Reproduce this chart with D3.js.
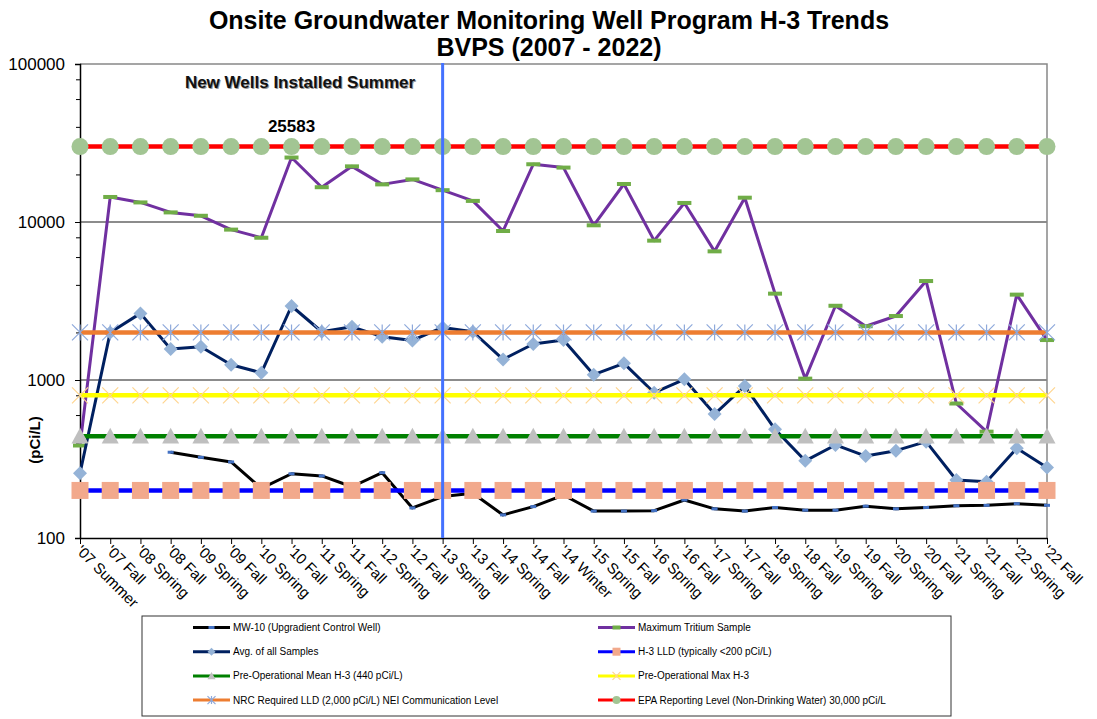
<!DOCTYPE html>
<html>
<head>
<meta charset="utf-8">
<script src="https://cdn.jsdelivr.net/npm/d3@7"></script>
<style>
  body { margin: 0; background: #fff; }
  svg { font-family: Arial, "Liberation Sans", sans-serif; }
</style>
</head>
<body>
<svg id="chart" width="1097" height="719"></svg>
<script>
// categories (sampling events)
const categories = ["'07 Summer", "'07 Fall", "'08 Spring", "'08 Fall", "'09 Spring", "'09 Fall",
  "'10 Spring", "'10 Fall", "'11 Spring", "'11 Fall", "'12 Spring", "'12 Fall", "'13 Spring",
  "'13 Fall", "'14 Spring", "'14 Fall", "'14 Winter", "'15 Spring", "'15 Fall", "'16 Spring",
  "'16 Fall", "'17 Spring", "'17 Fall", "'18 Spring", "'18 Fall", "'19 Spring", "'19 Fall",
  "'20 Spring", "'20 Fall", "'21 Spring", "'21 Fall", "'22 Spring", "'22 Fall"]

// pCi/L (null = no sample)
const mw10 = [null, null, null, 349, 324, 303, 206, 255, 247, 211, 259, 155, 183,
  192, 140, 158, 187, 148, 148, 149, 174, 153, 148, 156, 150, 150, 159,
  153, 156, 160, 161, 165, 161]
const maxTritium = [385, 14400, 13300, 11500, 10950, 8950, 7950, 25583, 16600, 22500, 17300, 18600, 15900,
  13600, 8770, 23200, 22100, 9530, 17400, 7620, 13200, 6520, 14250, 3520, 1020, 2950, 2190,
  2540, 4230, 710, 471, 3470, 1790]
const avgSamples = [257, 2000, 2640, 1570, 1625, 1250, 1110, 2940, 2020, 2170, 1880, 1780, 2150,
  2020, 1350, 1690, 1790, 1080, 1275, 831, 1010, 609, 916, 487, 308, 388, 330,
  357, 407, 233, 227, 370, 279]

// reference levels
const lldLevel = 200
const preOpMean = 440
const preOpMax = 800
const nrcLevel = 2000
const epaLevel = 30000

const yTicks = [100, 1000, 10000, 100000]

const svg = d3.select('#chart')
const plot = { left: 80, right: 1047, top: 64, bottom: 538 }

var x = d3.scalePoint().domain(categories).range([plot.left, plot.right])
var y = d3.scaleLog().domain([100, 100000]).range([plot.bottom, plot.top])

// title
svg.append('text').attr('x', 549).attr('y', 29).attr('text-anchor', 'middle')
  .attr('font-size', 25).attr('font-weight', 'bold')
  .text('Onsite Groundwater Monitoring Well Program H-3 Trends')
svg.append('text').attr('x', 549).attr('y', 56).attr('text-anchor', 'middle')
  .attr('font-size', 25).attr('font-weight', 'bold')
  .text('BVPS (2007 - 2022)')

// gridlines + frame
svg.append('g').selectAll('line').data([1000, 10000]).join('line')
  .attr('x1', plot.left).attr('x2', plot.right)
  .attr('y1', d => y(d)).attr('y2', d => y(d))
  .attr('stroke', '#666').attr('stroke-width', 1.3)
svg.append('path')
  .attr('d', `M${plot.left},${plot.top}H${plot.right}V${plot.bottom}`)
  .attr('fill', 'none').attr('stroke', '#888').attr('stroke-width', 1.5)

// y axis
const minorTicks = []
yTicks.slice(0, -1).forEach(t => [2, 4, 6, 8].forEach(m => minorTicks.push(t * m)))
svg.append('g')
  .attr('transform', `translate(${plot.left},0)`)
  .call(d3.axisLeft(y).tickValues(minorTicks).tickSize(4).tickFormat(''))
  .call(g => g.select('.domain').remove())
const yAxis = svg.append('g')
  .attr('transform', `translate(${plot.left},0)`)
  .call(d3.axisLeft(y).tickValues(yTicks).tickSize(5).tickFormat(d3.format('d')))
yAxis.selectAll('text').attr('font-size', 17).attr('font-family', 'Arial, "Liberation Sans", sans-serif')
  .attr('fill', '#000').attr('x', -15)
yAxis.select('.domain').attr('stroke-width', 1.5)

svg.append('text')
  .attr('transform', 'translate(40,440) rotate(-90)')
  .attr('text-anchor', 'middle').attr('font-size', 15).attr('font-weight', 'bold')
  .text('(pCi/L)')

// x axis
const xAxis = svg.append('g')
  .attr('transform', `translate(0,${plot.bottom})`)
  .call(d3.axisBottom(x).tickSize(6).tickSizeOuter(0))
xAxis.select('.domain').attr('stroke-width', 1.5)
xAxis.selectAll('text')
  .attr('font-size', 15).attr('font-family', 'Arial, "Liberation Sans", sans-serif').attr('fill', '#000')
  .attr('text-anchor', 'start')
  .attr('x', 6).attr('y', 8).attr('dy', '0.35em')
  .attr('transform', 'rotate(45)')

// helpers
const lineGen = d3.line().defined(d => d.v != null).x(d => x(d.c)).y(d => y(d.v))
const pts = vals => categories.map((c, i) => ({ c: c, v: vals[i] }))
const flat = v => categories.map(c => ({ c: c, v: v }))

function marker(g, type, fill, size) {
  if (type === 'circle') g.append('circle').attr('r', size / 2).attr('fill', fill)
  else if (type === 'square') g.append('rect').attr('x', -size / 2).attr('y', -size / 2)
    .attr('width', size).attr('height', size).attr('fill', fill)
  else if (type === 'triangle') g.append('path')
    .attr('d', `M0,${-size / 2}L${size / 2},${size * 0.42}L${-size / 2},${size * 0.42}Z`).attr('fill', fill)
  else if (type === 'diamond') g.append('path')
    .attr('d', `M0,${-size / 2}L${size / 2},0L0,${size / 2}L${-size / 2},0Z`).attr('fill', fill)
  else if (type === 'dash') g.append('rect').attr('x', -size / 2).attr('y', -2)
    .attr('width', size).attr('height', 4).attr('fill', fill)
  else if (type === 'smallbar') g.append('rect').attr('x', -3).attr('y', -1.5)
    .attr('width', 6).attr('height', 3).attr('fill', fill)
  else if (type === 'x') g.append('path')
    .attr('d', `M${-size / 2},${-size / 2}L${size / 2},${size / 2}M${size / 2},${-size / 2}L${-size / 2},${size / 2}`)
    .attr('stroke', fill).attr('stroke-width', 1.2)
  else if (type === 'star') g.append('path')
    .attr('d', `M${-size / 2},${-size / 2}L${size / 2},${size / 2}M${size / 2},${-size / 2}L${-size / 2},${size / 2}M0,${-size / 2}V${size / 2}`)
    .attr('stroke', fill).attr('stroke-width', 1.2)
}

const series = [
  { name: 'MW-10 (Upgradient Control Well)', data: pts(mw10), stroke: '#000', width: 3, m: 'smallbar', mfill: '#4472C4', ms: 6 },
  { name: 'Maximum Tritium Sample', data: pts(maxTritium), stroke: '#7030A0', width: 3, m: 'dash', mfill: '#70AD47', ms: 14 },
  { name: 'Avg. of all Samples', data: pts(avgSamples), stroke: '#002060', width: 3, m: 'diamond', mfill: '#95B3D7', ms: 14 },
  { name: 'H-3 LLD (typically <200 pCi/L)', data: flat(lldLevel), stroke: '#0000FF', width: 4.5, m: 'square', mfill: '#F2A98C', ms: 17 },
  { name: 'Pre-Operational Mean H-3 (440 pCi/L)', data: flat(preOpMean), stroke: '#008000', width: 4.5, m: 'triangle', mfill: '#BFBFBF', ms: 17 },
  { name: 'Pre-Operational Max H-3', data: flat(preOpMax), stroke: '#FFFF00', width: 4.5, m: 'x', mfill: '#FFD58F', ms: 16 },
  { name: 'NRC Required LLD (2,000 pCi/L) NEI Communication Level', data: flat(nrcLevel), stroke: '#ED7D31', width: 4.5, m: 'star', mfill: '#8EA9DB', ms: 16 },
  { name: 'EPA Reporting Level (Non-Drinking Water) 30,000 pCi/L', data: flat(epaLevel), stroke: '#FF0000', width: 4.5, m: 'circle', mfill: '#A2C593', ms: 17 }
]

series.forEach(s => {
  const g = svg.append('g')
  g.append('path').datum(s.data)
    .attr('fill', 'none').attr('stroke', s.stroke).attr('stroke-width', s.width)
    .attr('stroke-linejoin', 'round')
    .attr('d', lineGen)
  s.data.filter(d => d.v != null).forEach(d => {
    const mg = g.append('g').attr('transform', `translate(${x(d.c)},${y(d.v)})`)
    marker(mg, s.m, s.mfill, s.ms)
  })
})

// new wells marker line
svg.append('line')
  .attr('x1', x("'13 Spring")).attr('x2', x("'13 Spring"))
  .attr('y1', plot.top - 1).attr('y2', plot.bottom)
  .attr('stroke', '#4472FF').attr('stroke-width', 3)

// annotations
svg.append('text').attr('x', 300).attr('y', 88).attr('text-anchor', 'middle')
  .attr('font-size', 17).attr('font-weight', 'bold').attr('fill', '#999')
  .attr('dx', 1).attr('dy', 1).text('New Wells Installed Summer')
svg.append('text').attr('x', 300).attr('y', 88).attr('text-anchor', 'middle')
  .attr('font-size', 17).attr('font-weight', 'bold').attr('fill', '#111')
  .text('New Wells Installed Summer')
svg.append('text').attr('x', x("'10 Fall")).attr('y', 132).attr('text-anchor', 'middle')
  .attr('font-size', 17).attr('font-weight', 'bold')
  .text(d3.max(maxTritium))

// legend
const legend = svg.append('g')
legend.append('rect').attr('x', 142).attr('y', 616).attr('width', 809).attr('height', 100)
  .attr('fill', '#fff').attr('stroke', '#333').attr('stroke-width', 1)
const legendOrder = [0, 2, 4, 6, 1, 3, 5, 7]
legendOrder.forEach((si, k) => {
  const s = series[si]
  const col = Math.floor(k / 4), row = k % 4
  const lx = col === 0 ? 193 : 598
  const ly = 627.5 + row * 24.2
  const lg = legend.append('g').attr('transform', `translate(${lx},${ly})`)
  lg.append('line').attr('x1', 0).attr('x2', 37).attr('stroke', s.stroke).attr('stroke-width', 3)
  const mg = lg.append('g').attr('transform', 'translate(18.5,0)')
  marker(mg, s.m, s.mfill, s.m === 'dash' ? 8 : (s.m === 'smallbar' ? 6 : 8))
  lg.append('text').attr('x', 40).attr('dy', '0.35em').attr('font-size', 10).attr('fill', '#000')
    .text(s.name)
})
</script>
</body>
</html>
